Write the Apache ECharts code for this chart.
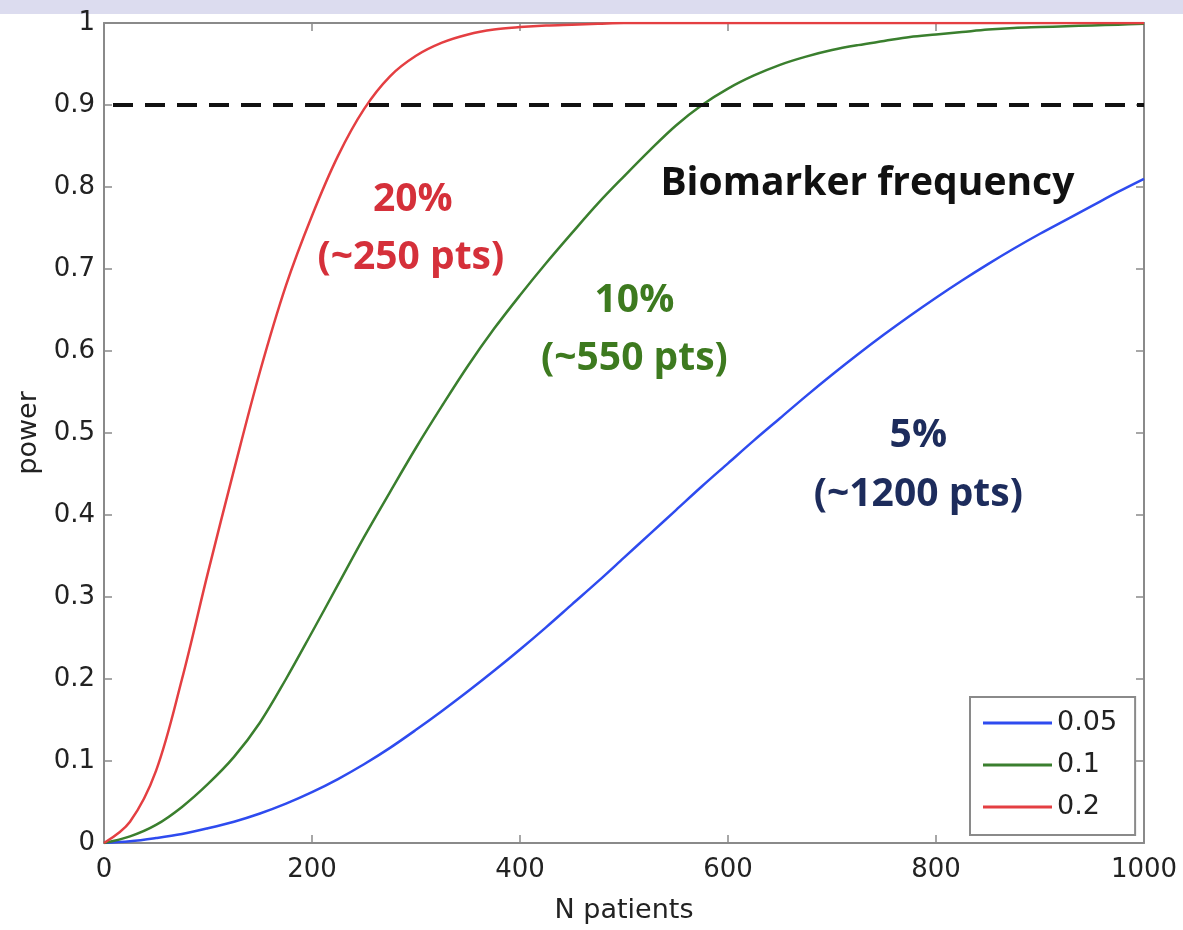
<!DOCTYPE html>
<html>
<head>
<meta charset="utf-8">
<script src="https://cdn.jsdelivr.net/npm/echarts@6/dist/echarts.min.js"></script>
<style>
html,body{margin:0;padding:0;background:#fff;}
#chart{width:1183px;height:930px;}
</style>
</head>
<body>
<div id="chart"></div>
<script>
// ---- data ----
var nPatients = [0,25,50,75,100,125,150,175,200,225,250,275,300,325,350,375,400,425,450,475,500,
                 525,550,575,600,625,650,675,700,725,750,775,800,825,850,875,900,925,950,975,1000];
var power005 = [0,0.002,0.006,0.011,0.018,0.026,0.036,0.048,0.062,0.078,0.096,0.116,0.138,0.161,0.185,0.21,0.236,0.263,0.291,0.319,0.348,
                0.377,0.406,0.435,0.463,0.491,0.518,0.545,0.571,0.596,0.62,0.643,0.665,0.686,0.706,0.725,0.743,0.76,0.777,0.794,0.81];
var power01  = [0,0.008,0.022,0.044,0.072,0.105,0.147,0.2,0.257,0.315,0.373,0.428,0.482,0.533,0.582,0.627,0.668,0.707,0.744,0.78,0.813,
                0.845,0.875,0.9,0.92,0.936,0.949,0.959,0.967,0.973,0.978,0.983,0.986,0.989,0.992,0.994,0.995,0.996,0.997,0.998,0.999];
var power02  = [0,0.026,0.088,0.2,0.33,0.455,0.575,0.68,0.765,0.838,0.895,0.935,0.96,0.976,0.986,0.992,0.995,0.997,0.998,0.999,1,
                1,1,1,1,1,1,1,1,1,1,1,1,1,1,1,1,1,1,1,1];
var seriesNames = ['0.05','0.1','0.2'];
var thresholdPower = 0.9;
var xRange = [0, 1000];
var annoTexts = ['20%','(~250 pts)','10%','(~550 pts)','5%','(~1200 pts)','Biomarker frequency'];
var annoN     = [297, 295, 510, 510, 783, 783, 734];
var annoPower = [0.784, 0.714, 0.661, 0.59, 0.497, 0.425, 0.804];

// ---- styles ----
var colBlue = '#2e4bef', colGreen = '#3a7f2e', colRed = '#e43f42';
var annoColors = ['#d5303a','#d5303a','#3d7a1f','#3d7a1f','#1d2c5c','#1d2c5c','#111111'];
var axisGrey = '#8a8a8a';
var tickFont = 'DejaVu Sans';

function pairs(xs, ys){ return xs.map(function(x,i){ return [x, ys[i]]; }); }

var chart = echarts.init(document.getElementById('chart'), null, {renderer:'canvas'});

var axisCommon = {
  type:'value',
  axisLine:{show:true, onZero:false, lineStyle:{color:axisGrey, width:2}},
  axisTick:{show:true, inside:true, length:8, lineStyle:{color:axisGrey, width:1.5}},
  splitLine:{show:false}
};

function lineSeries(name, ys, col){
  return {name:name, type:'line', data:pairs(nPatients, ys), smooth:0.35,
    showSymbol:false, lineStyle:{color:col, width:2.5}, itemStyle:{color:col}, z:3};
}

chart.setOption({
  animation:false,
  backgroundColor:'#ffffff',
  grid:{left:104, right:39, top:23, bottom:87},
  legend:{
    left:970, top:697, orient:'vertical',
    data:seriesNames,
    icon:'rect', itemWidth:69, itemHeight:3, itemGap:14,
    padding:[12,18,14,13],
    backgroundColor:'#ffffff', borderColor:axisGrey, borderWidth:2,
    selectedMode:false,
    textStyle:{fontFamily:tickFont, fontSize:27, color:'#222222', lineHeight:28}
  },
  xAxis:[
    Object.assign({}, axisCommon, {
      position:'bottom', min:xRange[0], max:xRange[1], interval:200,
      name:'N patients', nameLocation:'middle', nameGap:54,
      nameTextStyle:{fontFamily:tickFont, fontSize:27, color:'#222222'},
      axisLabel:{fontFamily:tickFont, fontSize:26, color:'#222222', margin:14,
        formatter:function(v){ return String(v); }}
    }),
    Object.assign({}, axisCommon, {
      position:'top', min:xRange[0], max:xRange[1], interval:200,
      axisLabel:{show:false}
    })
  ],
  yAxis:[
    Object.assign({}, axisCommon, {
      position:'left', min:0, max:1, interval:0.1,
      name:'power', nameLocation:'middle', nameGap:62,
      nameTextStyle:{fontFamily:tickFont, fontSize:27, color:'#222222'},
      axisLabel:{fontFamily:tickFont, fontSize:26, color:'#222222', margin:9}
    }),
    Object.assign({}, axisCommon, {
      position:'right', min:0, max:1, interval:0.1,
      axisLabel:{show:false}
    })
  ],
  series:[
    lineSeries(seriesNames[0], power005, colBlue),
    lineSeries(seriesNames[1], power01, colGreen),
    lineSeries(seriesNames[2], power02, colRed),
    {name:'threshold', type:'line', data:[[xRange[0], thresholdPower],[xRange[1], thresholdPower]],
     showSymbol:false, silent:true, z:4,
     lineStyle:{color:'#111111', width:4, type:[20,12], dashOffset:-9}}
  ]
});

// annotations: positioned in data coordinates, converted through the chart's own scales
var graphics = [{type:'rect', left:0, top:0, shape:{width:1183, height:14}, style:{fill:'#dcdcef'}, z:-1}];
annoTexts.forEach(function(t,i){
  var p = chart.convertToPixel({xAxisIndex:0, yAxisIndex:0}, [annoN[i], annoPower[i]]);
  graphics.push({type:'text', x:p[0], y:p[1], z:20, silent:true,
    style:{text:t, fill:annoColors[i], font:'bold 39px "Open Sans"', align:'center', verticalAlign:'middle'}});
});
chart.setOption({graphic:graphics});
</script>
</body>
</html>
